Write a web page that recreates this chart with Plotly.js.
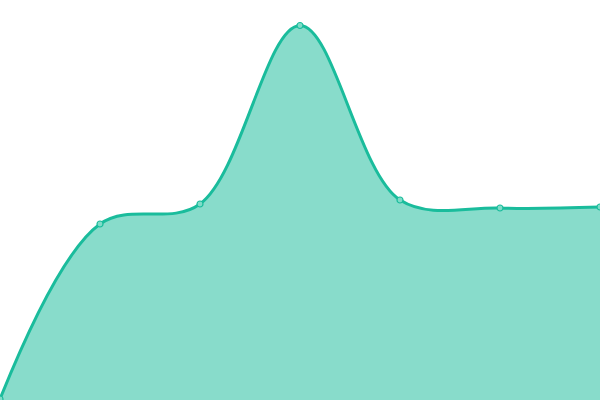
<!DOCTYPE html>
<html>
<head>
<meta charset="utf-8">
<script src="https://cdn.plot.ly/plotly-3.0.1.min.js"></script>
<style>
  html, body { margin: 0; padding: 0; background: #fff; }
  #chart { width: 600px; height: 400px; }
</style>
</head>
<body>
<div id="chart"></div>
<script>
// values (axis hidden, 0..400 scale)
const xs = [0, 1, 2, 3, 4, 5, 6];
const ys = [1, 176, 196, 374.5, 200, 192, 193];

const lineColor = '#1abc9c';

const trace = {
    x: xs,
    y: ys,
    type: 'scatter',
    mode: 'lines+markers',
    fill: 'tozeroy',
    fillcolor: 'rgba(26,188,156,0.52)',
    line: { color: lineColor, width: 3, shape: 'spline', smoothing: 1 },
    marker: { size: 6, color: '#7fdcc8', line: { color: lineColor, width: 1.2 } },
    cliponaxis: true,
    hoverinfo: 'none'
};

const layout = {
    width: 600,
    height: 400,
    margin: { l: 0, r: 0, t: 0, b: 0 },
    paper_bgcolor: '#fff',
    plot_bgcolor: '#fff',
    showlegend: false,
    xaxis: { range: [0, 6], visible: false, fixedrange: true },
    yaxis: { range: [0, 400], visible: false, fixedrange: true }
};

Plotly.newPlot('chart', [trace], layout, { displayModeBar: false, staticPlot: true });
</script>
</body>
</html>
